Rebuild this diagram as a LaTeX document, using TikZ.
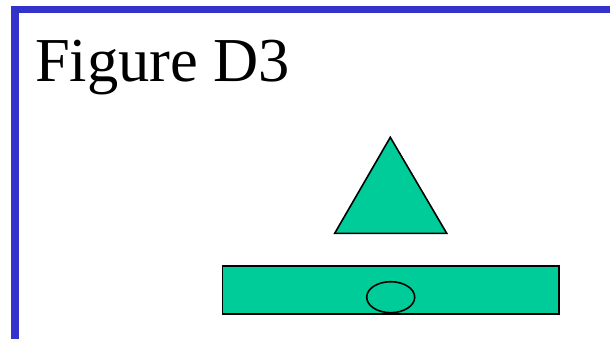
\documentclass[tikz,border=0pt]{standalone}
\usepackage{fontspec}
\setmainfont{Liberation Serif}
\definecolor{frameblue}{HTML}{3333CC}
\definecolor{shapegreen}{HTML}{00CC99}
\tikzset{greenshape/.style={fill=shapegreen,draw=black,line width=1.6pt}}

\begin{document}
\begin{tikzpicture}[x=1pt,y=-1pt]
\useasboundingbox (0,0) rectangle (610,339);
% frame
\fill[frameblue] (11,6) rectangle (610,13);
\fill[frameblue] (11,6) rectangle (19,339);

\node[anchor=base west,inner sep=0pt,font=\fontsize{62.5}{70}\selectfont] (title) at (34.8,81.7) {Figure D3};

\draw[greenshape] (390.3,137.3) -- (446.7,233.3) -- (334.7,233.3) -- cycle;

\draw[greenshape] (222.3,265.7) rectangle (559,314);
\draw[line width=1.6pt] (390.7,297.2) ellipse (24 and 15.5);
\end{tikzpicture}
\end{document}
